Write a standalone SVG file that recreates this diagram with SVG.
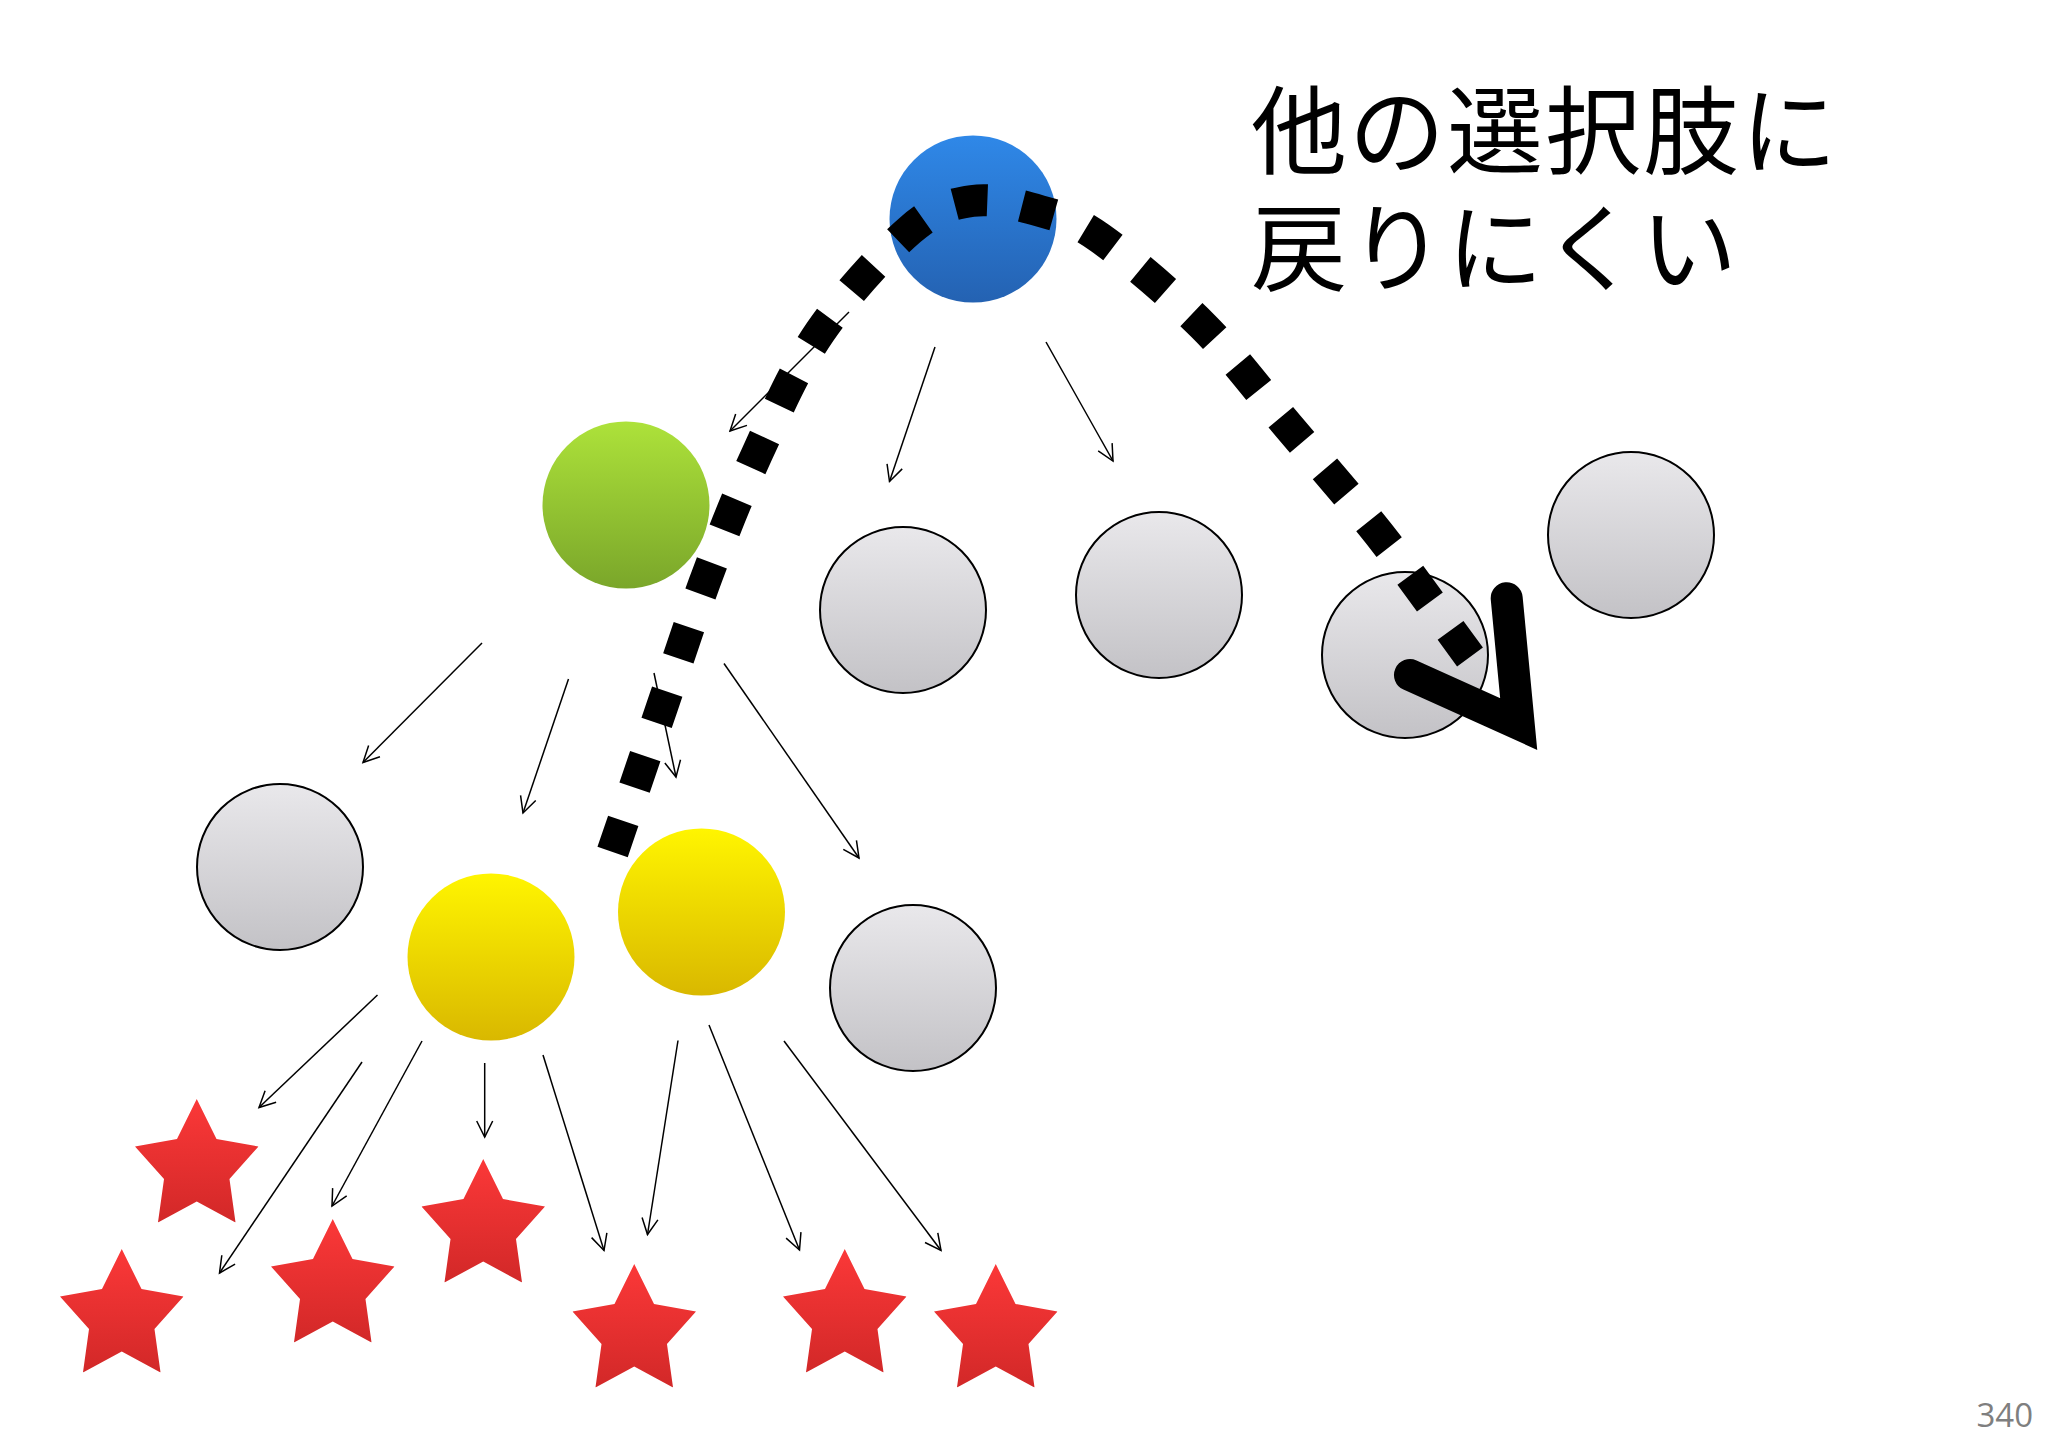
<svg xmlns="http://www.w3.org/2000/svg" width="2048" height="1448" viewBox="0 0 2048 1448">
<defs>
<style>
.gray{fill:url(#gGray);stroke:#000;stroke-width:2}
.edge{fill:none;stroke:#000;stroke-width:1.5;marker-end:url(#arr)}
.title{font-family:"Noto Sans CJK JP","Noto Sans CJK SC",sans-serif;font-size:96px;fill:#000;letter-spacing:2px}
.pg{font-family:"Open Sans","DejaVu Sans",sans-serif;font-size:33px;fill:#7f7f7f}
</style>
<linearGradient id="gBlue" x1="0" y1="0" x2="0" y2="1"><stop offset="0" stop-color="#2F88E8"/><stop offset="1" stop-color="#2462B2"/></linearGradient>
<linearGradient id="gGreen" x1="0" y1="0" x2="0" y2="1"><stop offset="0" stop-color="#ADE23A"/><stop offset="1" stop-color="#7AA62A"/></linearGradient>
<linearGradient id="gYellow" x1="0" y1="0" x2="0" y2="1"><stop offset="0" stop-color="#FFF500"/><stop offset="1" stop-color="#D9B800"/></linearGradient>
<linearGradient id="gGray" x1="0" y1="0" x2="0" y2="1"><stop offset="0" stop-color="#E9E8EB"/><stop offset="1" stop-color="#C3C2C6"/></linearGradient>
<linearGradient id="gRed" x1="0" y1="0" x2="0" y2="1"><stop offset="0" stop-color="#FB3838"/><stop offset="1" stop-color="#D22828"/></linearGradient>
<symbol id="star" viewBox="0 0 100 100" preserveAspectRatio="none">
<polygon points="50,0 66,32.4 100,38.4 76.5,64.8 81.4,100 50,83 18.6,100 23.5,64.8 0,38.4 34,32.4" fill="url(#gRed)"/>
</symbol>
<marker id="arr" viewBox="-18 -10 20 20" refX="0" refY="0" markerWidth="20" markerHeight="20" markerUnits="userSpaceOnUse" orient="auto">
<path d="M-16,-8 L0,0 L-16,8" fill="none" stroke="#000" stroke-width="1.5"/>
</marker>
</defs>
<rect width="2048" height="1448" fill="#fff"/>

<g id="nodes">
<g id="n-root"><circle cx="973" cy="219" r="83.5" fill="url(#gBlue)"/></g>
<g id="n-green"><circle cx="626" cy="505" r="83.5" fill="url(#gGreen)"/></g>
<g id="n-gray1"><circle class="gray" cx="903" cy="610" r="83"/></g>
<g id="n-gray2"><circle class="gray" cx="1159" cy="595" r="83"/></g>
<g id="n-gray3"><circle class="gray" cx="1405" cy="655" r="83"/></g>
<g id="n-gray4"><circle class="gray" cx="1631" cy="535" r="83"/></g>
<g id="n-gray5"><circle class="gray" cx="280" cy="867" r="83"/></g>
<g id="n-yellow1"><circle cx="491" cy="957" r="83.5" fill="url(#gYellow)"/></g>
<g id="n-yellow2"><circle cx="701.5" cy="912" r="83.5" fill="url(#gYellow)"/></g>
<g id="n-gray6"><circle class="gray" cx="913" cy="988" r="83"/></g>
<g id="s1"><use href="#star" x="135" y="1099" width="123.5" height="123.5"/></g>
<g id="s2"><use href="#star" x="60" y="1249" width="123.5" height="123.5"/></g>
<g id="s3"><use href="#star" x="271" y="1219" width="123.5" height="123.5"/></g>
<g id="s4"><use href="#star" x="421.5" y="1159" width="123.5" height="123.5"/></g>
<g id="s5"><use href="#star" x="572.5" y="1264" width="123.5" height="123.5"/></g>
<g id="s6"><use href="#star" x="783" y="1249" width="123.5" height="123.5"/></g>
<g id="s7"><use href="#star" x="934" y="1264" width="123.5" height="123.5"/></g>
</g>

<g id="connectors">
<line class="edge" x1="849" y1="312" x2="730" y2="431"/>
<line class="edge" x1="935" y1="347" x2="889.5" y2="481.5"/>
<line class="edge" x1="1046" y1="342" x2="1113" y2="461"/>
<line class="edge" x1="482" y1="643" x2="363" y2="762.5"/>
<line class="edge" x1="568.5" y1="679" x2="523" y2="813"/>
<line class="edge" x1="654" y1="673" x2="676" y2="777"/>
<line class="edge" x1="724" y1="663.5" x2="859" y2="858"/>
<line class="edge" x1="377.5" y1="995" x2="259" y2="1107.5"/>
<line class="edge" x1="362" y1="1062" x2="219.5" y2="1273"/>
<line class="edge" x1="422" y1="1041" x2="332" y2="1206"/>
<line class="edge" x1="484.7" y1="1063" x2="484.7" y2="1137"/>
<line class="edge" x1="543" y1="1055" x2="604" y2="1250.5"/>
<line class="edge" x1="678" y1="1040.5" x2="647.5" y2="1234.5"/>
<line class="edge" x1="709" y1="1025" x2="799.5" y2="1250"/>
<line class="edge" x1="784" y1="1041" x2="941" y2="1250.5"/>
<g id="path-back">
<path d="M612.6,852 C629.1,803.7 646.3,753 662,707 C677.7,661 691.2,618.2 707,576 C722.8,533.8 738.2,494.7 757,454 C775.8,413.3 794.5,369.3 820,332 C845.5,294.7 884.7,251.8 910,230 C935.3,208.2 950.3,204.2 972,201 C993.7,197.8 1018.7,204.8 1040,211 C1061.3,217.2 1072.8,218.8 1100,238 C1127.2,257.2 1171.5,294.5 1203,326 C1234.5,357.5 1259.7,392.3 1289,427 C1318.3,461.7 1348.8,495.7 1379,534 C1409.2,572.3 1439.7,616 1470,657" pathLength="1461" fill="none" stroke="#000" stroke-width="32" stroke-dasharray="33 35" stroke-linecap="butt"/>
<path d="M1410,675 L1518.7,724 L1506.7,598.3" fill="none" stroke="#000" stroke-width="32" stroke-linecap="round" stroke-linejoin="miter" stroke-miterlimit="10"/>
</g>
</g>

<g id="label">
<text class="title"><tspan x="1251" y="166">他の選択肢に</tspan><tspan x="1251" y="283">戻りにくい</tspan></text>
</g>
<text class="pg" x="2033" y="1427" text-anchor="end">340</text>
</svg>
